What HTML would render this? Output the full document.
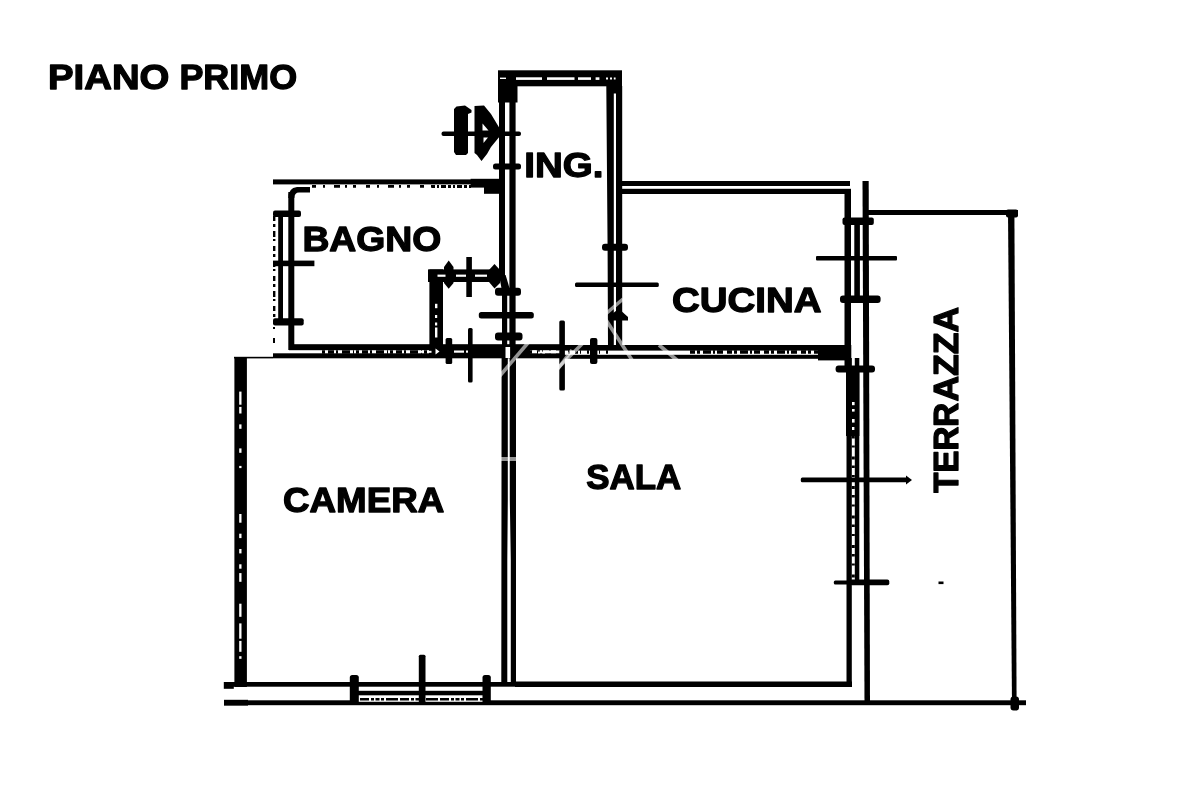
<!DOCTYPE html>
<html><head><meta charset="utf-8"><title>Piano Primo</title>
<style>
html,body{margin:0;padding:0;background:#fff;}
body{width:1200px;height:800px;overflow:hidden;position:relative;font-family:"Liberation Sans",sans-serif;}
svg{position:absolute;left:0;top:0;display:block}
text{font-family:"Liberation Sans",sans-serif;font-weight:bold;fill:#000}
</style></head><body>
<svg width="1200" height="800" viewBox="0 0 1200 800">
<rect width="1200" height="800" fill="#fff"/>
<g id="walls" fill="#000">
<!-- ING top wall -->
<rect x="498" y="70.3" width="124" height="16"/>
<!-- ING corner block -->
<rect x="498" y="80" width="19.5" height="22.5"/>
<rect x="612" y="86" width="6" height="7.5"/>
<!-- ING left wall -->
<rect x="499" y="86" width="6" height="192"/>
<rect x="509.4" y="86" width="6.2" height="260"/>
<!-- ING right wall -->
<polygon points="606.3,86 613.8,86 613.8,346 608,346 607.6,250"/>
<rect x="616" y="86" width="6.2" height="260"/>
<!-- Cucina top wall -->
<rect x="616" y="181" width="234" height="5"/>
<rect x="616" y="188.8" width="235" height="5.2"/>
<!-- Cucina inner right wall -->
<rect x="844.5" y="189" width="6.5" height="157"/>
<!-- outer right line -->
<polygon points="862.5,181 868.7,181 870,705 864.5,705"/>
<!-- Terrace top -->
<rect x="868" y="210" width="150" height="5"/>
<!-- Terrace right -->
<polygon points="1008,212 1014.4,212 1016.6,705 1012,705"/>
<!-- bottom outer line -->
<rect x="224" y="700.3" width="134" height="4.9"/>
<rect x="358" y="701.8" width="126" height="3.4"/>
<rect x="484" y="700.3" width="542" height="4.9"/>
<!-- sala bottom upper line -->
<rect x="515" y="681.5" width="337" height="5.5"/>
<!-- camera bottom upper line -->
<rect x="224" y="682" width="291" height="4.7"/>
<rect x="223.8" y="682" width="10" height="6.8"/>
<!-- camera left wall -->
<rect x="234.4" y="357" width="12.5" height="330"/>
<rect x="234" y="356.8" width="39" height="1.6"/>
<!-- camera/sala divider -->
<polygon points="501.6,358 507.8,358 507.8,500 507.3,560 507.3,682 501.3,682"/>
<polygon points="509.6,358 516,358 516,682 510.8,682 510.8,560 509.8,500"/>
<!-- main horizontal wall -->
<rect x="289" y="344.2" width="271" height="6"/>
<rect x="560" y="345" width="291" height="5.6"/>
<rect x="273" y="353.3" width="287" height="5"/>
<rect x="560" y="354.8" width="291" height="4"/>
<rect x="429" y="345" width="101" height="13"/>
<rect x="818" y="345" width="33" height="15.4"/>
<line x1="322" y1="352" x2="429" y2="352" stroke="#000" stroke-width="3.4" stroke-dasharray="3 3 6 2 2 4 8 3 1 2"/>
<line x1="530" y1="352" x2="612" y2="352" stroke="#000" stroke-width="3.4" stroke-dasharray="2 5 3 2 1 6"/>
<line x1="690" y1="352" x2="822" y2="352" stroke="#000" stroke-width="3.4" stroke-dasharray="5 2 3 3 8 2 2 2 6 4"/>
<!-- sala right wall -->
<polygon points="846,366 859.4,366 859.4,436 846,436"/>
<rect x="844.5" y="345" width="6.8" height="22"/>
<rect x="846.5" y="358" width="5.3" height="329"/>
<rect x="854.8" y="358" width="4.5" height="224"/>
<!-- bagno top -->
<rect x="273" y="179.4" width="227" height="5"/>
<rect x="470.6" y="178.8" width="29.4" height="8.8"/>
<rect x="484" y="187" width="16" height="6.8"/>
<!-- bagno inner left -->
<rect x="288.3" y="192" width="6" height="158"/>
<!-- shaft -->
<rect x="428" y="269.4" width="72" height="12.6"/>
<rect x="429.4" y="269.4" width="13.6" height="76"/>
</g>

<g id="details" fill="#000">
<!-- door symbol -->
<rect x="441.5" y="131.6" width="79.5" height="4.4" rx="2"/>
<polygon points="454,109 456.5,106.5 465,105.6 471.5,110 471.5,112.5 468,114 468,153 466,155 456,155 454,152"/>
<polygon points="474.5,106 484,105.5 491,114 500,129 500,136 491,147 487,154 481.5,161 477,155 474.5,153"/>
<polygon points="482.5,123.5 488.5,130.5 482.5,130.5" fill="#fff"/>
<polygon points="483.5,137.5 488,137.5 483.5,143" fill="#fff"/>
<!-- tick ING left wall -->
<rect x="493" y="163.6" width="28" height="5.8" rx="2.5"/>
<!-- bagno ticks -->
<rect x="273" y="210.6" width="28" height="6.4" rx="2"/>
<rect x="273" y="260.6" width="41.4" height="5.6"/>
<rect x="273" y="318.2" width="30.7" height="7.2" rx="2"/>
<!-- bagno window lines -->
<rect x="278.2" y="215" width="4.8" height="105"/>
<line x1="274.2" y1="216" x2="274.2" y2="320" stroke="#000" stroke-width="2.4" stroke-dasharray="5 3 3 4 6 2 2 5"/>
<rect x="273" y="327" width="2" height="2"/>
<rect x="273" y="338" width="2" height="5"/>
<!-- bagno inner corner -->
<path d="M310 187 L297 187 Q288.3 188 288.3 198 L294.3 198 Q294.5 192.5 299 192.5 L310 192.5 Z"/>
<!-- bagno remnant dashes -->
<line x1="312" y1="186.4" x2="432" y2="186.4" stroke="#000" stroke-width="2.6" stroke-dasharray="4 7 2 9 6 5 2 6 3 10"/>
<line x1="432" y1="186.4" x2="471" y2="186.4" stroke="#000" stroke-width="3" stroke-dasharray="3 2 2 2 5 2"/>
<!-- shaft ticks -->
<polygon points="448.7,260.6 453.5,267 453.5,283 448.7,288.8 444,283 444,267"/>
<rect x="466.3" y="257" width="5.6" height="40"/>
<polygon points="494.5,264 500,270 500,283 494.5,288.5 489,282 489,270"/>
<rect x="495" y="287.8" width="26" height="8" rx="3"/>
<rect x="478.8" y="312" width="55" height="6.6" rx="2.5"/>
<rect x="495" y="332.5" width="27.5" height="8" rx="3"/>
<rect x="468" y="328" width="4.6" height="54.5" rx="1.5"/>
<rect x="445.6" y="338" width="6.6" height="26" rx="1.5"/>
<rect x="559.3" y="320.6" width="5.6" height="70" rx="1.5"/>
<rect x="590" y="338" width="7.4" height="26" rx="2"/>
<polygon points="499,275 505.6,275 509.5,288 502,291"/>
<!-- ING lower left wall line (below shaft) -->
<rect x="502" y="290" width="5.2" height="56"/>
<!-- ING right wall ticks -->
<rect x="602" y="243.8" width="26" height="7" rx="3"/>
<rect x="575" y="282.5" width="83.8" height="4.5" rx="1.5"/>
<polygon points="618.8,308.8 628,317 628,320.6 608,320.6 608,317"/>
<!-- cucina window -->
<rect x="842.5" y="217.5" width="31.3" height="7.5" rx="2"/>
<rect x="854.3" y="221" width="5.6" height="78"/>
<rect x="816" y="256" width="81" height="4.6" rx="1"/>
<rect x="840" y="295.6" width="40.6" height="7.4" rx="3"/>
<line x1="853.3" y1="436" x2="853.3" y2="580" stroke="#000" stroke-width="3" stroke-dasharray="2.5 7 2 9 3 6"/>
<!-- sala right ticks -->
<rect x="835.6" y="365.6" width="39.4" height="7" rx="3"/>
<rect x="800.8" y="477.6" width="108" height="4.6" rx="1.5"/>
<polygon points="906,475.5 912,480 906,484.5"/>
<rect x="833.8" y="580.5" width="40" height="4" rx="1.5"/>
<rect x="850" y="579.5" width="39.3" height="5.8" rx="2"/>
<rect x="938.5" y="581.5" width="5" height="2.6"/>
<!-- camera window -->
<rect x="349.8" y="675" width="9" height="30" rx="2.5"/>
<rect x="418.8" y="654.8" width="6.7" height="50.2" rx="1.5"/>
<rect x="482.5" y="675" width="8.3" height="30" rx="2.5"/>
<rect x="358" y="690.8" width="126" height="4.5"/>
<line x1="360" y1="699.2" x2="483" y2="699.2" stroke="#000" stroke-width="2.4" stroke-dasharray="9 2 3 1.5 4 1.5 3 2 12 2"/>
<!-- bottom left block -->
<rect x="224" y="699.8" width="24" height="5.8"/>
<!-- terrace corner blob -->
<rect x="1010.5" y="696.5" width="8.5" height="14" rx="3"/>
<rect x="1006" y="209.5" width="12" height="8" rx="2"/>
</g>

<g id="white" fill="#fff">
<!-- ING top wall dashes -->
<rect x="516" y="77.3" width="26" height="2.6"/>
<rect x="547" y="77.3" width="27.5" height="2.6"/>
<rect x="578" y="77.3" width="13" height="2.6"/>
<rect x="595.6" y="77.3" width="3.8" height="2.6"/>
<rect x="606" y="77.5" width="2" height="2"/>
<rect x="610" y="77.5" width="2" height="2"/>
<rect x="613.8" y="77.5" width="1.8" height="2"/>
<rect x="500" y="77.6" width="6" height="1.4"/>
<!-- shaft dashes -->
<rect x="437.5" y="274.6" width="8" height="2.2"/>
<rect x="456" y="274.6" width="10" height="2.2"/>
<rect x="475" y="274.6" width="12" height="2.2"/>
<rect x="435" y="303.8" width="2.4" height="4.4"/>
<rect x="435" y="315" width="2.2" height="3"/>
<rect x="435" y="322.5" width="2.2" height="3"/>
<rect x="435" y="327.5" width="2.4" height="10"/>
<!-- main wall dashes -->
<rect x="454" y="350.5" width="10" height="2.2"/>
<rect x="466" y="350.5" width="2" height="2.2"/>
<rect x="420" y="350.8" width="4" height="2"/>
<rect x="427.5" y="350.8" width="4" height="2"/>
<polygon points="435.5,348.5 439.5,351.5 435.5,354.5"/>
<rect x="505.5" y="347" width="4.6" height="11"/>
<rect x="533" y="350.5" width="3" height="2.4"/>
<rect x="538" y="351.5" width="2" height="2"/>
<rect x="542" y="351.5" width="3" height="2"/>
<rect x="549" y="350.6" width="10" height="2.6"/>
<!-- sala right wall dots -->
<rect x="852" y="402" width="2.6" height="3.2"/>
<rect x="852" y="409" width="2.6" height="2.6"/>
<rect x="852" y="419" width="2.6" height="3.6"/>
<rect x="852" y="427" width="2.4" height="3"/>
<!-- camera left wall dashes -->
<rect x="239.2" y="391.6" width="2.3" height="13.1"/>
<rect x="239.2" y="406.9" width="2.3" height="6.6"/>
<rect x="239.2" y="424.4" width="2.3" height="4.4"/>
<rect x="239.2" y="448.4" width="2.3" height="4.4"/>
<rect x="239.2" y="465.9" width="2.3" height="2.2"/>
<rect x="239.2" y="514.0" width="2.3" height="8.7"/>
<rect x="239.2" y="533.7" width="2.3" height="4.4"/>
<rect x="239.2" y="549.0" width="2.3" height="4.4"/>
<rect x="239.2" y="564.3" width="2.3" height="4.4"/>
<rect x="239.2" y="573.1" width="2.3" height="8.7"/>
<rect x="239.2" y="603.7" width="2.3" height="13.1"/>
<rect x="239.2" y="623.4" width="2.3" height="15.3"/>
<rect x="239.2" y="640.9" width="2.3" height="10.9"/>
<rect x="239.2" y="656.2" width="2.3" height="2.6"/>
</g>
<g id="wm" stroke="#fff" stroke-opacity="0.58" stroke-width="3.6" fill="none">
<line x1="533" y1="337" x2="498" y2="378"/>
<line x1="572" y1="350" x2="557" y2="370"/>
<line x1="583" y1="343" x2="558" y2="368"/>
<line x1="623" y1="299" x2="601" y2="318"/>
<line x1="606" y1="320" x2="632" y2="360"/>
<line x1="659" y1="345" x2="678" y2="361"/>
<line x1="498" y1="459" x2="519" y2="459" stroke-width="4"/>
</g>
<g id="labels" font-size="35.4" stroke="#000" stroke-width="1.3" stroke-linejoin="round" opacity="0.999">
<text x="48" y="88.9" textLength="121.4" lengthAdjust="spacingAndGlyphs">PIANO</text>
<text x="179.4" y="88.9" textLength="117.7" lengthAdjust="spacingAndGlyphs">PRIMO</text>
<text x="524.2" y="176.6" textLength="79.2" lengthAdjust="spacingAndGlyphs">ING.</text>
<text x="302.4" y="250.7" textLength="138.9" lengthAdjust="spacingAndGlyphs">BAGNO</text>
<text x="672" y="312.3" textLength="149.6" lengthAdjust="spacingAndGlyphs">CUCINA</text>
<text x="283" y="511.5" textLength="161.4" lengthAdjust="spacingAndGlyphs">CAMERA</text>
<text x="586.2" y="489.1" textLength="95" lengthAdjust="spacingAndGlyphs">SALA</text>
<text transform="translate(957.6 492.8) rotate(-90)" x="0" y="0" textLength="90" lengthAdjust="spacingAndGlyphs">TERR</text>
<text transform="translate(957.6 492.8) rotate(-90)" x="91.2" y="0" textLength="94.8" lengthAdjust="spacingAndGlyphs">AZZA</text>
</g>
</svg>
</body></html>
